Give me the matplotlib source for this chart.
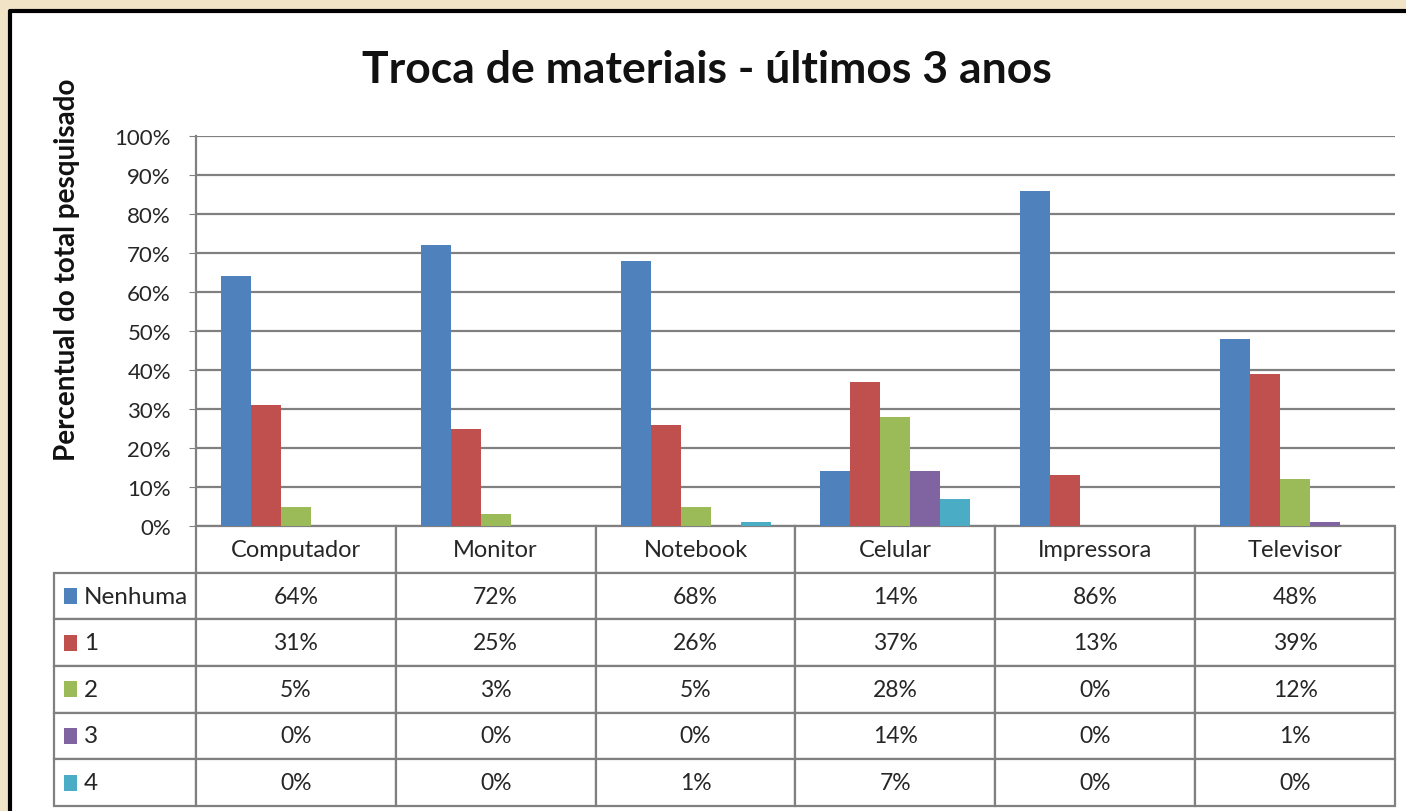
import numpy as np
import matplotlib.pyplot as plt
import matplotlib.patches as mpatches
from matplotlib.lines import Line2D

plt.rcParams['font.family'] = ['Lato', 'DejaVu Sans']

# data
categories = ['Computador', 'Monitor', 'Notebook', 'Celular', 'Impressora', 'Televisor']
series_names = ['Nenhuma', '1', '2', '3', '4']
nenhuma = [64, 72, 68, 14, 86, 48]
um = [31, 25, 26, 37, 13, 39]
dois = [5, 3, 5, 28, 0, 12]
tres = [0, 0, 0, 14, 0, 1]
quatro = [0, 0, 1, 7, 0, 0]
series_values = [nenhuma, um, dois, tres, quatro]
colors = ['#4F81BD', '#C0504D', '#9BBB59', '#8064A2', '#4BACC6']
yticks = np.arange(0, 101, 10)

W, H = 1406, 812
fig = plt.figure(figsize=(W / 100, H / 100), dpi=100)
fig.patch.set_facecolor('#f1e3c6')

# white chart frame, black border only on the left and top
fx, fy = 10 / W, (H - 12) / H
frame = mpatches.Rectangle((fx, 0), 1 - fx, fy, transform=fig.transFigure,
                           facecolor='white', edgecolor='none', zorder=-10)
fig.patches.append(frame)
fig.lines.append(Line2D([fx, fx, 1], [0, fy, fy], transform=fig.transFigure,
                        color='black', linewidth=3, zorder=-9))

# plot area
left, top, right, bottom = 196, 137, 1395, 527
ax = fig.add_axes([left / W, (H - bottom) / H, (right - left) / W, (bottom - top) / H])
ax.set_facecolor('none')

x = np.arange(len(categories))
bw = 0.15
for i, vals in enumerate(series_values):
    ax.bar(x + (i - 2) * bw, vals, width=bw, color=colors[i], zorder=3)

ax.set_xlim(-0.5, len(categories) - 0.5)
ax.set_ylim(0, 100)
ax.set_yticks(yticks)
ax.set_yticklabels([f'{v}%' for v in yticks], fontsize=16, color='#262626')
ax.set_xticks([])
ax.grid(axis='y', color='#808080', linewidth=1.6, zorder=0)
ax.set_axisbelow(True)
for s in ['top', 'right', 'bottom']:
    ax.spines[s].set_visible(False)
ax.spines['left'].set_color('#808080')
ax.spines['left'].set_linewidth(1.6)
ax.tick_params(axis='y', length=5, color='#808080', pad=13)

# data table under the bars
cell_text = [[name] + [f'{v}%' for v in vals] for name, vals in zip(series_names, series_values)]
col_labels = [''] + categories
aw = right - left
ah = bottom - top
tbl_left, tbl_bottom = 54, 807
col_w = [142] + [200] * len(categories)
tbl = ax.table(cellText=cell_text, colLabels=col_labels, colWidths=col_w,
               cellLoc='center',
               bbox=[(tbl_left - left) / aw, -(tbl_bottom - bottom) / ah,
                     (right - tbl_left) / aw, (tbl_bottom - bottom) / ah])
tbl.auto_set_font_size(False)
tbl.set_fontsize(16.5)
nrows = len(series_names) + 1
for (r, c), cell in tbl.get_celld().items():
    cell.set_edgecolor('#808080')
    cell.set_linewidth(1.6)
    cell.get_text().set_color('#262626')
    if r == 0:
        cell.get_text().set_fontsize(17)
    if c == 0:
        cell._loc = 'left'
        cell.PAD = 0.21
        cell.get_text().set_ha('left')
        cell.get_text().set_fontsize(17.5)
    if r == 0 and c == 0:
        cell.visible_edges = 'open'

# legend keys in the first column
row_h = (tbl_bottom - bottom) / nrows
for i in range(len(series_names)):
    yc = bottom + row_h * (i + 1.5)
    key = mpatches.Rectangle(((64 - left) / aw, -(yc + 8 - bottom) / ah), 13 / aw, 16 / ah,
                             transform=ax.transAxes, facecolor=colors[i],
                             edgecolor='none', clip_on=False, zorder=5)
    ax.add_patch(key)

fig.text(707 / W, (H - 70) / H, 'Troca de materiais - últimos 3 anos',
         ha='center', va='center', fontsize=32, fontweight='bold', color='#111111')
fig.text(67 / W, (H - 270) / H, 'Percentual do total pesquisado', rotation=90,
         ha='center', va='center', fontsize=20, fontweight='bold', color='#111111')

fig.savefig('out.png', dpi=100)
